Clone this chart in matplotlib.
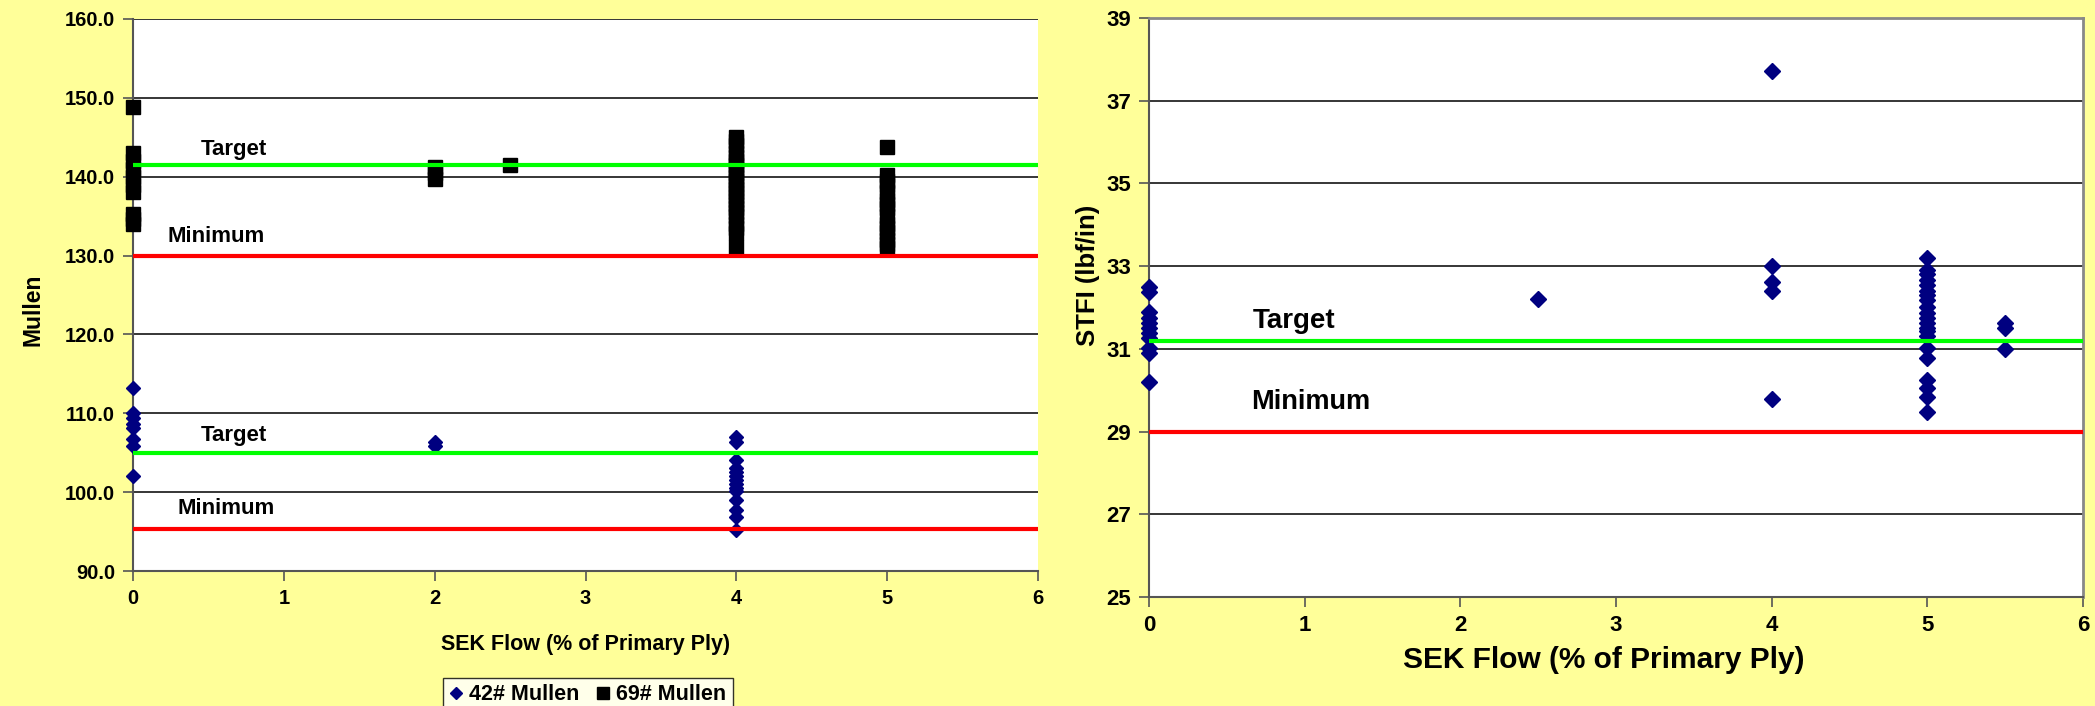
import matplotlib.pyplot as plt

# -------------------- data --------------------
# left panel: Mullen vs SEK flow
flow_42 = [0, 0, 0, 0, 0, 0, 0, 0,
           2, 2,
           4, 4, 4, 4, 4, 4, 4, 4, 4, 4, 4, 4, 4, 4]
mullen_42 = [113.2, 110.0, 109.4, 108.7, 108.1, 106.7, 105.8, 102.0,
             106.3, 105.9,
             107.0, 106.3, 104.1, 103.0, 102.5, 102.0, 101.5, 101.0, 100.5, 100.2, 99.0, 97.7, 96.9, 95.2]

flow_69 = [0, 0, 0, 0, 0, 0, 0, 0, 0, 0,
           2, 2, 2,
           2.5,
           4, 4, 4, 4, 4, 4, 4, 4, 4, 4, 4, 4, 4, 4, 4, 4, 4, 4, 4, 4, 4, 4, 4, 4,
           5, 5, 5, 5, 5, 5, 5, 5, 5, 5, 5, 5, 5, 5, 5]
mullen_69 = [148.8, 143.0, 142.0, 141.0, 140.0, 139.0, 138.0, 135.3, 134.6, 134.0,
             141.2, 140.5, 139.7,
             141.5,
             145.0, 144.5, 144.0, 143.0, 142.5, 142.0, 141.5, 141.0, 140.5, 140.0, 139.5, 139.0,
             138.5, 138.0, 137.5, 137.0, 136.5, 136.0, 135.5, 135.0, 134.0, 133.5, 132.8, 131.1,
             143.8, 140.2, 139.5, 139.0, 138.0, 137.0, 136.5, 136.0, 135.0, 134.0, 133.5, 133.0, 132.0, 131.5, 131.0]

target_69, minimum_69 = 141.5, 130.0
target_42, minimum_42 = 105.0, 95.3

# right panel: STFI vs SEK flow
flow_stfi = [0, 0, 0, 0, 0, 0, 0, 0, 0, 0, 0,
             2.5,
             4, 4, 4, 4, 4,
             5, 5, 5, 5, 5, 5, 5, 5, 5, 5, 5, 5, 5, 5, 5, 5, 5, 5, 5, 5, 5,
             5.5, 5.5, 5.5]
stfi = [32.50, 32.38, 31.90, 31.74, 31.62, 31.50, 31.38, 31.26, 31.01, 30.89, 30.21,
        32.2,
        37.72, 33.0, 32.62, 32.40, 29.79,
        33.2, 32.91, 32.8, 32.67, 32.54, 32.4, 32.30, 32.18, 32.0, 31.86, 31.74, 31.62, 31.50,
        31.42, 31.3, 31.01, 30.77, 30.25, 30.05, 29.84, 29.48,
        31.62, 31.50, 30.99]

target_stfi, minimum_stfi = 31.2, 29.0

x_ticks = [0, 1, 2, 3, 4, 5, 6]
left_y_ticks = [90, 100, 110, 120, 130, 140, 150, 160]
right_y_ticks = [25, 27, 29, 31, 33, 35, 37, 39]

# -------------------- style --------------------
BG = '#FFFF99'
NAVY = '#000080'
GREEN = '#00FF00'
RED = '#FF0000'
plt.rcParams['font.family'] = ['Liberation Sans', 'DejaVu Sans']
plt.rcParams['font.weight'] = 'bold'

fig = plt.figure(figsize=(20.95, 7.06), dpi=100, facecolor=BG)
ax1 = fig.add_axes([0.0635, 0.1912, 0.432, 0.7819])
ax2 = fig.add_axes([0.5484, 0.1544, 0.4459, 0.8201])


def style_axes(ax, tick_size):
    ax.set_facecolor('white')
    ax.set_axisbelow(True)
    ax.yaxis.grid(True, color='black', linewidth=1.1)
    ax.tick_params(direction='out', length=7, width=1.2, color='#555555',
                   labelsize=tick_size, pad=6)
    for lbl in ax.get_xticklabels() + ax.get_yticklabels():
        lbl.set_fontweight('bold')
    for side in ('left', 'bottom'):
        ax.spines[side].set_color('#555555')
        ax.spines[side].set_linewidth(1.5)


# -------------------- left: Mullen --------------------
ax1.plot(flow_42, mullen_42, linestyle='none', marker='D', markersize=7,
         color=NAVY, label='42# Mullen', zorder=3)
ax1.plot(flow_69, mullen_69, linestyle='none', marker='s', markersize=10,
         color='black', label='69# Mullen', zorder=3)
for val, col in [(target_69, GREEN), (minimum_69, RED), (target_42, GREEN), (minimum_42, RED)]:
    ax1.axhline(val, color=col, linewidth=3, zorder=4)
ax1.text(0.67, target_69 + 1.9, 'Target', ha='center', va='center', fontsize=16, fontweight='bold')
ax1.text(0.55, minimum_69 + 2.4, 'Minimum', ha='center', va='center', fontsize=16, fontweight='bold')
ax1.text(0.67, target_42 + 2.2, 'Target', ha='center', va='center', fontsize=16, fontweight='bold')
ax1.text(0.62, minimum_42 + 2.6, 'Minimum', ha='center', va='center', fontsize=16, fontweight='bold')
ax1.set_xlim(0, 6)
ax1.set_ylim(90, 160)
ax1.set_xticks(x_ticks)
ax1.set_yticks(left_y_ticks)
ax1.set_yticklabels([f'{v:.1f}' for v in left_y_ticks])
ax1.spines['top'].set_visible(False)
ax1.spines['right'].set_visible(False)
style_axes(ax1, 14.5)
ax1.set_xlabel('SEK Flow (% of Primary Ply)', fontsize=15.5, fontweight='bold', labelpad=19)
ax1.set_ylabel('Mullen', fontsize=16.5, fontweight='bold')
ax1.yaxis.set_label_coords(-0.098, 0.473)
for m in ax1.lines[:2]:
    m.set_clip_on(False)

leg = fig.legend(handles=ax1.lines[:2], loc='upper center', bbox_to_anchor=(0.2807, 0.040),
                 borderaxespad=0, ncol=2, frameon=True, fancybox=False, fontsize=15.5,
                 handlelength=0.6, handletextpad=0.3, columnspacing=0.8, borderpad=0.3,
                 markerscale=0.9)
leg.get_frame().set_edgecolor('black')
leg.get_frame().set_linewidth(1.0)
for t in leg.get_texts():
    t.set_fontweight('bold')

# -------------------- right: STFI --------------------
ax2.plot(flow_stfi, stfi, linestyle='none', marker='D', markersize=8,
         color=NAVY, zorder=3, clip_on=False)
ax2.axhline(target_stfi, color=GREEN, linewidth=3, zorder=4)
ax2.axhline(minimum_stfi, color=RED, linewidth=3, zorder=4)
ax2.text(0.93, 31.68, 'Target', ha='center', va='center', fontsize=20, fontweight='bold')
ax2.text(1.04, 29.72, 'Minimum', ha='center', va='center', fontsize=19.5, fontweight='bold')
ax2.set_xlim(0, 6)
ax2.set_ylim(25, 39)
ax2.set_xticks(x_ticks)
ax2.set_yticks(right_y_ticks)
style_axes(ax2, 16)
for side in ('top', 'right'):
    ax2.spines[side].set_color('#888888')
    ax2.spines[side].set_linewidth(2)
ax2.set_xlabel('SEK Flow (% of Primary Ply)', fontsize=21.5, fontweight='bold')
ax2.xaxis.set_label_coords(0.487, -0.085)
ax2.set_ylabel('STFI (lbf/in)', fontsize=18.5, fontweight='bold')
ax2.yaxis.set_label_coords(-0.052, 0.556)

fig.savefig('out.png', dpi=100, facecolor=BG)
